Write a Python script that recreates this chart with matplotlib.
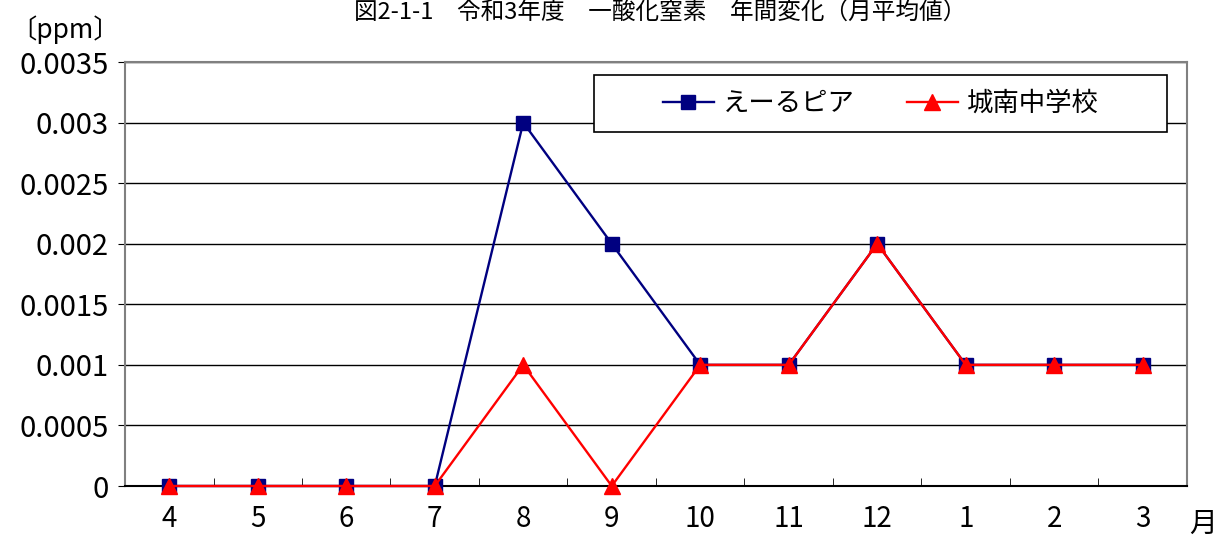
import matplotlib
matplotlib.use("Agg")
import matplotlib.pyplot as plt
from matplotlib.ticker import FixedLocator
from matplotlib.patches import Rectangle

plt.rcParams['font.family'] = ['Noto Sans CJK JP', 'DejaVu Sans']

months = ["4", "5", "6", "7", "8", "9", "10", "11", "12", "1", "2", "3"]
el_pia = [0, 0, 0, 0, 0.003, 0.002, 0.001, 0.001, 0.002, 0.001, 0.001, 0.001]
jonan = [0, 0, 0, 0, 0.001, 0, 0.001, 0.001, 0.002, 0.001, 0.001, 0.001]
y_ticks = [0, 0.0005, 0.001, 0.0015, 0.002, 0.0025, 0.003, 0.0035]
y_labels = ["0", "0.0005", "0.001", "0.0015", "0.002", "0.0025", "0.003", "0.0035"]

W, H = 1220, 540
fig = plt.figure(figsize=(W / 100, H / 100), dpi=100)
ax = fig.add_axes([125 / W, 1 - 486 / H, 1062 / W, 424 / H])

x = list(range(len(months)))
ax.plot(x, el_pia, color="#000080", lw=1.7, marker="s", markersize=10.5,
        markerfacecolor="#000080", markeredgecolor="#000080", label="えーるピア",
        zorder=3, clip_on=False)
ax.plot(x, jonan, color="#ff0000", lw=1.7, marker="^", markersize=11.5,
        markerfacecolor="#ff0000", markeredgecolor="#ff0000", label="城南中学校",
        zorder=4, clip_on=False)

ax.set_xlim(-0.5, len(months) - 0.5)
ax.set_ylim(0, 0.0035)
ax.set_yticks(y_ticks)
ax.set_yticklabels(y_labels)
ax.set_xticks(x)
ax.set_xticklabels(months)
ax.xaxis.set_minor_locator(FixedLocator([i + 0.5 for i in range(-1, len(months))]))
ax.tick_params(axis="x", which="major", length=0, labelsize=20, pad=13)
ax.tick_params(axis="x", which="minor", direction="in", length=6, color="#000000")
ax.tick_params(axis="y", which="major", length=5, direction="out", labelsize=21, pad=7)

ax.grid(axis="y", color="#000000", lw=1.0)
ax.set_axisbelow(True)
for side in ["left", "top", "right"]:
    ax.spines[side].set_color("#808080")
    ax.spines[side].set_linewidth(1.5)
ax.spines["bottom"].set_color("#000000")
ax.spines["bottom"].set_linewidth(1.5)

# legend frame drawn separately so its box can be wider than its contents
box = Rectangle((594 / W, 1 - 132 / H), 573 / W, 57 / H, transform=fig.transFigure,
                facecolor="white", edgecolor="#000000", lw=1.2, zorder=9)
fig.add_artist(box)
leg = ax.legend(loc="center", bbox_to_anchor=(881 / W, 1 - 103.5 / H),
                bbox_transform=fig.transFigure, ncol=2, frameon=False,
                fontsize=19, handlelength=1.9, columnspacing=2.0,
                borderaxespad=0, handletextpad=0.35)
leg.set_zorder(10)
fig.add_artist(leg)

fig.text(660 / W, 1 - 1 / H, "図2-1-1　令和3年度　一酸化窒素　年間変化（月平均値）",
         ha="center", va="top", fontsize=17)
fig.text(10 / W, 1 - 30 / H, "〔ppm〕", ha="left", va="center", fontsize=19)
fig.text(1203 / W, 1 - 524 / H, "月", ha="center", va="center", fontsize=20)

fig.savefig("out.png", dpi=100)
